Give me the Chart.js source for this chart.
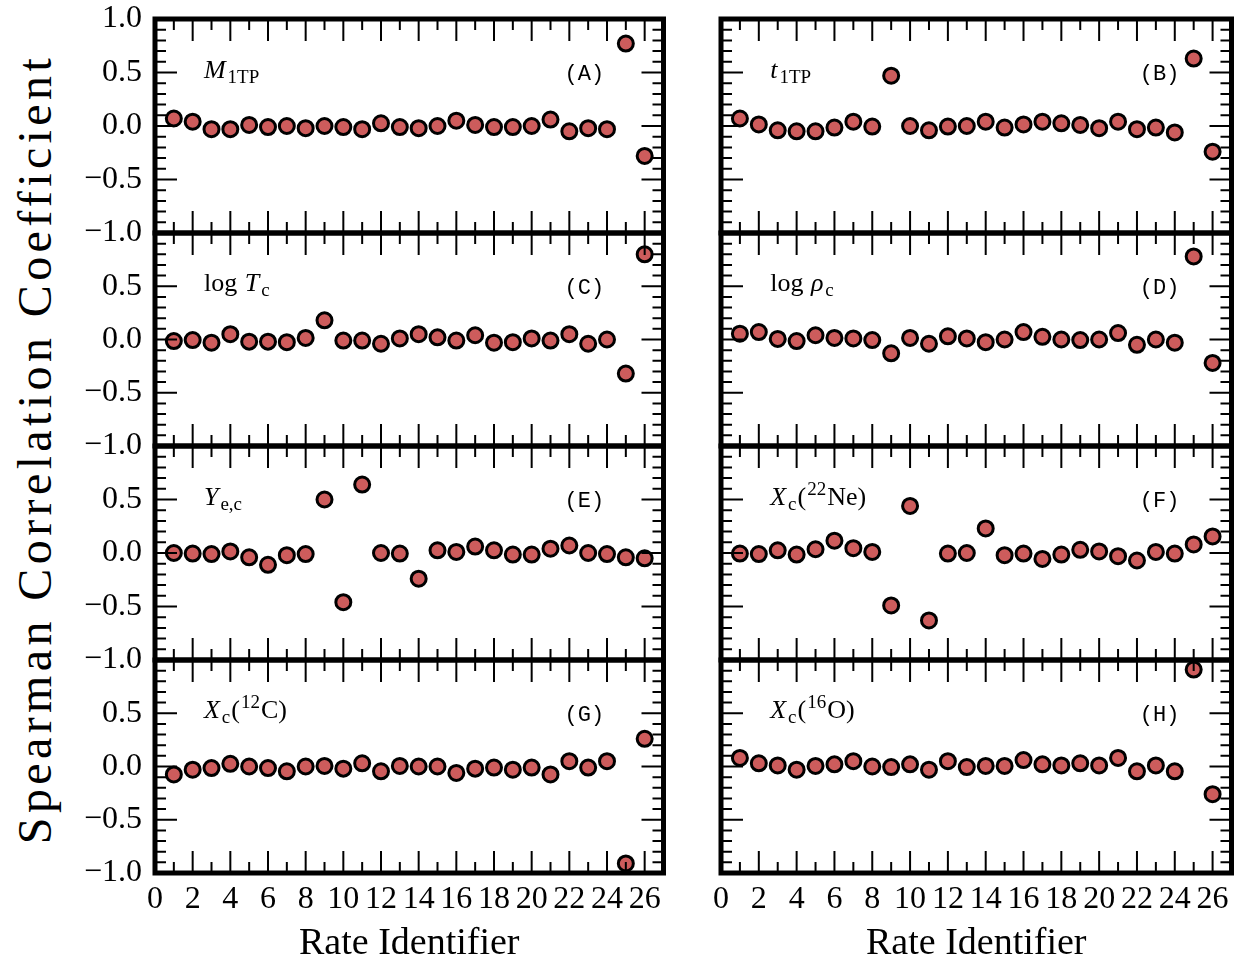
<!DOCTYPE html>
<html>
<head>
<meta charset="utf-8">
<script src="https://cdn.jsdelivr.net/npm/chart.js@4.4.0/dist/chart.umd.min.js"></script>
<style>
  body { margin: 0; background: #fff; width: 1242px; height: 959px; overflow: hidden; position: relative; }
  canvas { position: absolute; }
  #ytitle {
    position: absolute; left: 35px; top: 449px;
    font-family: "Liberation Serif", serif; font-size: 48px; line-height: 1;
    letter-spacing: 4.4px; white-space: nowrap; color: #000;
    transform: translate(-50%, -50%) rotate(-90deg);
  }
</style>
</head>
<body>
<div id="ytitle">Spearman Correlation Coefficient</div>
<script>
// rate identifiers on the x axis
const RATE_IDS = [1, 2, 3, 4, 5, 6, 7, 8, 9, 10, 11, 12, 13, 14, 15, 16, 17, 18, 19, 20, 21, 22, 23, 24, 25, 26];

// spearman coefficients, one list per panel
const M_1TP    = [0.07, 0.04, -0.03, -0.03, 0.01, -0.01, 0.0, -0.02, 0.0, -0.01, -0.03, 0.025, -0.01, -0.02, 0.0, 0.05, 0.01, -0.01, -0.01, 0.0, 0.06, -0.05, -0.02, -0.03, 0.77, -0.28];
const T_1TP    = [0.07, 0.015, -0.04, -0.05, -0.05, -0.015, 0.04, -0.005, 0.47, 0.0, -0.04, -0.005, 0.0, 0.04, -0.015, 0.015, 0.04, 0.025, 0.01, -0.02, 0.04, -0.03, -0.015, -0.06, 0.63, -0.24];
const LOG_TC   = [-0.015, -0.005, -0.03, 0.05, -0.02, -0.02, -0.025, 0.015, 0.18, -0.01, -0.01, -0.04, 0.01, 0.05, 0.02, -0.01, 0.04, -0.03, -0.025, 0.01, -0.01, 0.05, -0.04, 0.0, -0.32, 0.80];
const LOG_RHOC = [0.055, 0.07, 0.005, -0.015, 0.04, 0.015, 0.01, -0.005, -0.13, 0.015, -0.04, 0.03, 0.01, -0.025, 0.0, 0.07, 0.025, 0.0, -0.005, 0.0, 0.06, -0.05, 0.0, -0.03, 0.78, -0.22];
const YE_C     = [0.0, -0.005, -0.01, 0.015, -0.04, -0.11, -0.02, -0.01, 0.50, -0.46, 0.64, 0.0, -0.005, -0.24, 0.025, 0.01, 0.06, 0.025, -0.015, -0.015, 0.04, 0.07, 0.0, -0.01, -0.04, -0.05];
const XC_NE22  = [-0.005, -0.01, 0.025, -0.015, 0.035, 0.115, 0.045, 0.01, -0.49, 0.44, -0.63, -0.005, 0.0, 0.23, -0.02, -0.005, -0.055, -0.015, 0.03, 0.015, -0.03, -0.07, 0.01, -0.005, 0.08, 0.155];
const XC_C12   = [-0.075, -0.03, -0.015, 0.025, 0.0, -0.015, -0.045, 0.0, 0.005, -0.02, 0.03, -0.045, 0.005, 0.0, 0.0, -0.06, -0.02, -0.01, -0.03, -0.01, -0.075, 0.05, -0.01, 0.05, -0.91, 0.26];
const XC_O16   = [0.08, 0.03, 0.01, -0.03, 0.005, 0.02, 0.05, 0.0, -0.005, 0.02, -0.03, 0.05, -0.005, 0.005, 0.005, 0.06, 0.02, 0.01, 0.03, 0.01, 0.08, -0.045, 0.01, -0.045, 0.91, -0.26];

// tick values and labels
const X_TICKS = [0, 2, 4, 6, 8, 10, 12, 14, 16, 18, 20, 22, 24, 26];
const Y_TICKS = [-1, -0.5, 0, 0.5, 1];
const Y_TICK_LABELS = ['\u22121.0', '\u22120.5', '0.0', '0.5', '1.0'];

// panel texts: [text, kind] pieces, kind = r roman, i italic, sub, sup
const PANEL_NAMES = [
  [['M', 'i'], ['1TP', 'sub']],
  [['t', 'i'], ['1TP', 'sub']],
  [['log ', 'r'], ['T', 'i'], ['c', 'sub']],
  [['log ', 'r'], ['\u03c1', 'i'], ['c', 'sub']],
  [['Y', 'i'], ['e,c', 'sub']],
  [['X', 'i'], ['c', 'sub'], ['(', 'r'], ['22', 'sup'], ['Ne)', 'r']],
  [['X', 'i'], ['c', 'sub'], ['(', 'r'], ['12', 'sup'], ['C)', 'r']],
  [['X', 'i'], ['c', 'sub'], ['(', 'r'], ['16', 'sup'], ['O)', 'r']]
];
const PANEL_TAGS = ['(A)', '(B)', '(C)', '(D)', '(E)', '(F)', '(G)', '(H)'];
const SERIES = [M_1TP, T_1TP, LOG_TC, LOG_RHOC, YE_C, XC_NE22, XC_C12, XC_O16];

Chart.defaults.font.family = '"Liberation Serif", serif';
Chart.defaults.color = '#000';

// layout of the grid in page pixels
const COL_X = [[155, 670], [721, 1237]];
const ROW_Y = [19, 233, 446, 660, 873];
const PAD = 24;

const frameTicks = {
  id: 'frameTicks',
  afterDatasetsDraw(chart) {
    const { ctx, chartArea: a, scales: { x, y } } = chart;
    ctx.save();
    ctx.strokeStyle = '#000';
    ctx.lineWidth = 2;
    ctx.beginPath();
    for (let i = 1; i < 27; i++) {
      const px = x.getPixelForValue(i);
      const len = i % 2 === 0 ? 22 : 11;
      ctx.moveTo(px, a.top); ctx.lineTo(px, a.top + len);
      ctx.moveTo(px, a.bottom); ctx.lineTo(px, a.bottom - len);
    }
    for (let k = -9; k <= 9; k++) {
      const py = y.getPixelForValue(k / 10);
      const len = k % 5 === 0 ? 22 : 11;
      ctx.moveTo(a.left, py); ctx.lineTo(a.left + len, py);
      ctx.moveTo(a.right, py); ctx.lineTo(a.right - len, py);
    }
    ctx.stroke();
    ctx.lineWidth = 5;
    ctx.strokeRect(a.left, a.top, a.right - a.left, a.bottom - a.top);
    ctx.restore();
  }
};

const panelLabel = {
  id: 'panelLabel',
  afterDraw(chart, args, opts) {
    const { ctx, scales: { x, y } } = chart;
    ctx.save();
    ctx.fillStyle = '#000';
    ctx.textAlign = 'left';
    ctx.textBaseline = 'alphabetic';
    let px = x.getPixelForValue(2.6);
    const py = y.getPixelForValue(0.5) + 5;
    for (const [txt, kind] of opts.parts) {
      let size = 26, dy = 0, style = '';
      if (kind === 'i') style = 'italic ';
      if (kind === 'sub') { size = 19; dy = 5; }
      if (kind === 'sup') { size = 19; dy = -10; }
      ctx.font = style + size + 'px "Liberation Serif"';
      ctx.fillText(txt, px, py + dy);
      px += ctx.measureText(txt).width + (kind === 'i' ? 2 : 1);
    }
    ctx.font = '22px "Liberation Mono"';
    ctx.textAlign = 'center';
    ctx.textBaseline = 'middle';
    ctx.fillText(opts.tag, x.getPixelForValue(opts.tagX), y.getPixelForValue(0.5) + 2);
    ctx.restore();
  }
};

SERIES.forEach((vals, i) => {
  const col = i % 2, row = Math.floor(i / 2);
  const bottomRow = row === 3;
  const [x0, x1] = COL_X[col];
  const padL = col === 0 ? 0 : 21;
  const padR = col === 0 ? 4 : 5;
  const left = col === 0 ? 0 : x0 - padL;
  const top = ROW_Y[row] - PAD;
  const height = bottomRow ? 959 - top : (ROW_Y[row + 1] - ROW_Y[row]) + 2 * PAD;
  const width = x1 + padR - left;

  const cv = document.createElement('canvas');
  cv.width = width; cv.height = height;
  cv.style.left = left + 'px'; cv.style.top = top + 'px';
  document.body.appendChild(cv);

  new Chart(cv, {
    type: 'scatter',
    data: {
      datasets: [{
        data: RATE_IDS.map((id, k) => ({ x: id, y: vals[k] })),
        backgroundColor: '#cd5c5c',
        borderColor: '#000',
        borderWidth: 3,
        pointRadius: 7.5,
        pointHoverRadius: 7.5,
        clip: false
      }]
    },
    options: {
      responsive: false,
      animation: false,
      layout: { padding: { left: padL, right: padR, top: PAD, bottom: bottomRow ? 0 : PAD } },
      plugins: {
        legend: { display: false },
        tooltip: { enabled: false },
        panelLabel: { parts: PANEL_NAMES[i], tag: PANEL_TAGS[i], tagX: col === 0 ? 22.8 : 23.2 }
      },
      scales: {
        x: {
          type: 'linear', min: 0, max: 27,
          display: bottomRow,
          grid: { display: false, drawTicks: false },
          border: { display: false },
          afterBuildTicks: s => { s.ticks = X_TICKS.map(v => ({ value: v })); },
          afterFit: s => { s.height = bottomRow ? 86 : 0; },
          ticks: { autoSkip: false, maxRotation: 0, minRotation: 0, padding: 7,
                   font: { size: 32 }, callback: v => String(v) },
          title: { display: true, text: 'Rate Identifier', font: { size: 38, lineHeight: 0.8 },
                   padding: { top: 0, bottom: 0 } }
        },
        y: {
          type: 'linear', min: -1, max: 1,
          display: col === 0,
          grid: { display: false, drawTicks: false },
          border: { display: false },
          afterBuildTicks: s => { s.ticks = Y_TICKS.map(v => ({ value: v })); },
          afterFit: s => { s.width = col === 0 ? x0 : 0; s.paddingTop = 0; s.paddingBottom = 0; },
          ticks: {
            autoSkip: false, padding: 13, font: { size: 32 },
            callback: (v, idx) => (row > 0 && v === 1) ? '' : Y_TICK_LABELS[idx]
          }
        }
      }
    },
    plugins: [frameTicks, panelLabel]
  });
});
</script>
</body>
</html>
